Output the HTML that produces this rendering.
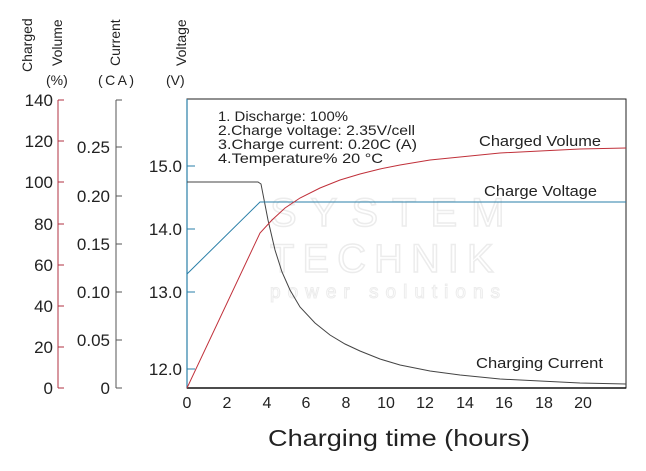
<!DOCTYPE html>
<html><head><meta charset="utf-8"><style>
html,body{margin:0;padding:0;background:#fff;}
svg{display:block;font-family:"Liberation Sans",sans-serif;}
</style></head><body>
<svg width="646" height="471" viewBox="0 0 646 471" xmlns="http://www.w3.org/2000/svg">
<rect width="646" height="471" fill="#fff"/>
<g>
<text x="270" y="226" font-size="40" letter-spacing="14" fill="none" stroke="#ececec" stroke-width="1.5">SYSTEM</text>
<text x="270" y="272" font-size="40" letter-spacing="8" fill="none" stroke="#ececec" stroke-width="1.5">TECHNIK</text>
<text x="270" y="298" font-size="19" letter-spacing="7" fill="none" stroke="#ececec" stroke-width="1">power solutions</text>
</g>
<g font-size="14" fill="#222">
<text transform="translate(32,72) rotate(-90)">Charged</text>
<text transform="translate(62,66) rotate(-90)">Volume</text>
<text x="46" y="85">(%)</text>
<text transform="translate(120,66) rotate(-90)">Current</text>
<text x="98" y="85" textLength="36">(CA)</text>
<text transform="translate(186,66) rotate(-90)">Voltage</text>
<text x="166" y="85">(V)</text>
</g>
<g stroke="#b03040" stroke-width="1">
<line x1="58" y1="100" x2="58" y2="388"/>
<line x1="58" y1="100" x2="64" y2="100"/><line x1="58" y1="141" x2="64" y2="141"/>
<line x1="58" y1="182" x2="64" y2="182"/><line x1="58" y1="224" x2="64" y2="224"/>
<line x1="58" y1="265" x2="64" y2="265"/><line x1="58" y1="306" x2="64" y2="306"/>
<line x1="58" y1="347" x2="64" y2="347"/><line x1="58" y1="388" x2="64" y2="388"/>
</g>
<g font-size="17" fill="#222" text-anchor="end">
<text x="53" y="106">140</text><text x="53" y="147">120</text><text x="53" y="188">100</text>
<text x="53" y="230">80</text><text x="53" y="271">60</text><text x="53" y="312">40</text>
<text x="53" y="353">20</text><text x="53" y="394">0</text>
</g>
<g stroke="#555" stroke-width="1">
<line x1="116" y1="100" x2="116" y2="388"/>
<line x1="116" y1="100" x2="122" y2="100"/><line x1="116" y1="147" x2="122" y2="147"/>
<line x1="116" y1="196" x2="122" y2="196"/><line x1="116" y1="244" x2="122" y2="244"/>
<line x1="116" y1="292" x2="122" y2="292"/><line x1="116" y1="340" x2="122" y2="340"/>
<line x1="116" y1="388" x2="122" y2="388"/>
</g>
<g font-size="17" fill="#222" text-anchor="end">
<text x="110" y="153">0.25</text><text x="110" y="202">0.20</text><text x="110" y="250">0.15</text>
<text x="110" y="298">0.10</text><text x="110" y="346">0.05</text><text x="110" y="394">0</text>
</g>
<rect x="187" y="99" width="439" height="289" fill="none" stroke="#222" stroke-width="1"/>
<line x1="187" y1="99" x2="187" y2="388" stroke="#2a7fa8" stroke-width="1.2"/>
<line x1="187" y1="388" x2="626" y2="388" stroke="#111" stroke-width="1.6"/>
<g stroke="#2a7fa8" stroke-width="1">
<line x1="187" y1="166" x2="195" y2="166"/><line x1="187" y1="229" x2="195" y2="229"/>
<line x1="187" y1="292" x2="195" y2="292"/><line x1="187" y1="369" x2="195" y2="369"/>
</g>
<g font-size="17" fill="#222" text-anchor="end">
<text x="182" y="172">15.0</text><text x="182" y="235">14.0</text>
<text x="182" y="298">13.0</text><text x="182" y="375">12.0</text>
</g>
<g font-size="16" fill="#222" text-anchor="middle">
<text x="187" y="408">0</text><text x="227" y="408">2</text><text x="267" y="408">4</text>
<text x="306" y="408">6</text><text x="346" y="408">8</text><text x="386" y="408">10</text>
<text x="425" y="408">12</text><text x="465" y="408">14</text><text x="504" y="408">16</text>
<text x="544" y="408">18</text><text x="583" y="408">20</text>
</g>
<text x="268" y="446" font-size="23" fill="#222" textLength="262" lengthAdjust="spacingAndGlyphs">Charging time (hours)</text>
<g font-size="14" fill="#222">
<text x="218" y="121" textLength="130" lengthAdjust="spacingAndGlyphs">1. Discharge: 100%</text>
<text x="218" y="135" textLength="197" lengthAdjust="spacingAndGlyphs">2.Charge voltage: 2.35V/cell</text>
<text x="218" y="149" textLength="199" lengthAdjust="spacingAndGlyphs">3.Charge current: 0.20C (A)</text>
<text x="218" y="163" textLength="165" lengthAdjust="spacingAndGlyphs">4.Temperature% 20 °C</text>
</g>
<g font-size="15" fill="#222">
<text x="479" y="146" textLength="122" lengthAdjust="spacingAndGlyphs">Charged Volume</text>
<text x="484" y="196" textLength="113" lengthAdjust="spacingAndGlyphs">Charge Voltage</text>
<text x="476" y="368" textLength="127" lengthAdjust="spacingAndGlyphs">Charging Current</text>
</g>
<polyline fill="none" stroke="#444" stroke-width="1" points="187,182 258,182 261,184 268,220 275,250 282,272 290,290 300,307 315,323 330,335 345,344 360,351 380,359 400,365 430,371 460,375 500,379 540,381 580,383 626,384"/>
<polyline fill="none" stroke="#2a7fa8" stroke-width="1" points="187,274 260,202 626,202"/>
<polyline fill="none" stroke="#c0303a" stroke-width="1" points="187,388 260,233 272,220 285,208 300,198 320,188 340,180 360,174 380,169 400,165 430,160 460,157 500,153 540,151 580,149 626,148"/>
</svg>
</body></html>
